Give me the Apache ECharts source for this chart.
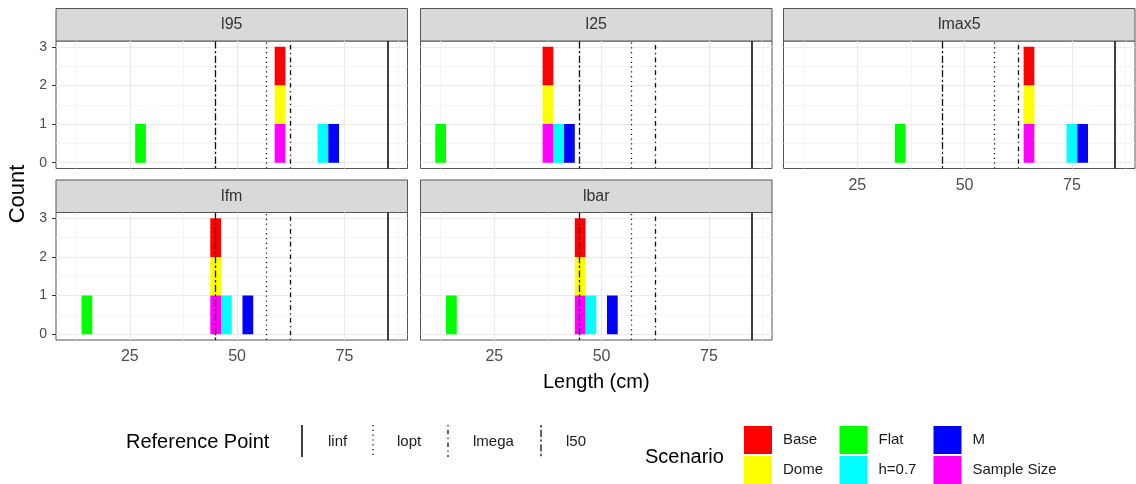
<!DOCTYPE html>
<html>
<head>
<meta charset="utf-8">
<script src="https://cdn.jsdelivr.net/npm/echarts@6/dist/echarts.min.js"></script>
<style>
  html, body { margin: 0; padding: 0; background: #fff; }
  #chart { width: 1136px; height: 484px; }
</style>
</head>
<body>
<div id="chart"></div>
<script>
// Estimated length (cm) per scenario for each length-based indicator
const scenarios = ['Base', 'Dome', 'Flat', 'h=0.7', 'M', 'Sample Size'];
const panelNames = ['l95', 'l25', 'lmax5', 'lfm', 'lbar'];
const l95 = [60, 60, 27.5, 70, 72.5, 60];
const l25 = [37.5, 37.5, 12.5, 40, 42.5, 37.5];
const lmax5 = [65, 65, 35, 75, 77.5, 65];
const lfm = [45, 45, 15, 47.5, 52.5, 45];
const lbar = [45, 45, 15, 47.5, 52.5, 45];

// Reference points drawn as vertical lines in every panel
const refNames = ['linf', 'lopt', 'lmega', 'l50'];
const refValues = [85, 56.8, 62.4, 44.8];

const binWidth = 2.5;
const xTicks = [25, 50, 75];
const yTicks = [0, 1, 2, 3];
const xMinorGrid = [12.5, 37.5, 62.5, 87.5];
const yMinorGrid = [0.5, 1.5, 2.5];

const panelValues = [l95, l25, lmax5, lfm, lbar];

// styling
const scenarioColors = ['#ff0000', '#ffff00', '#00ff00', '#00ffff', '#0000ff', '#ff00ff'];
const refDash = ['solid', [1.2, 3.6], [1.3, 3.4, 4.6, 3.4], [2.4, 2.4, 7.2, 2.4]];
const refWidth = [1.6, 1.3, 1.3, 1.3];
const FONT = '"Liberation Sans", Arial, sans-serif';

// facet layout
const colLeft = [56, 420.5, 783.5];
const rowTop = [41, 212.5];
const panelW = 351.5, panelH = 127.5, stripH = 32.5;
const xRange = [7.8, 89.7];
const yRange = [-0.15, 3.15];

// Histogram bins centred on multiples of binWidth; the first scenario is stacked on top
function binStacks(values) {
  const height = {};
  const rects = scenarios.map(() => []);
  for (let s = scenarios.length - 1; s >= 0; s--) {
    const k = Math.round(values[s] / binWidth);
    const y0 = height[k] || 0;
    rects[s].push([k * binWidth - binWidth / 2, k * binWidth + binWidth / 2, y0, y0 + 1]);
    height[k] = y0 + 1;
  }
  return rects;
}

function renderBin(params, api) {
  const p0 = api.coord([api.value(0), api.value(3)]);
  const p1 = api.coord([api.value(1), api.value(2)]);
  return {
    type: 'rect',
    shape: { x: p0[0], y: p0[1], width: p1[0] - p0[0], height: p1[1] - p0[1] },
    style: { fill: api.visual('color') }
  };
}

const grids = [], xAxes = [], yAxes = [], series = [], graphics = [];

panelNames.forEach((name, i) => {
  const row = i < 3 ? 0 : 1;
  const col = i < 3 ? i : i - 3;
  const left = colLeft[col], top = rowTop[row];
  const showX = i >= 2;
  const showY = col === 0;

  grids.push({
    left: left, top: top, width: panelW, height: panelH,
    show: true, backgroundColor: '#fff', borderColor: '#555', borderWidth: 1
  });

  xAxes.push({
    gridIndex: i, type: 'value', min: xRange[0], max: xRange[1],
    axisLine: { show: false },
    axisTick: { show: showX, length: 4, customValues: xTicks, lineStyle: { color: '#333', width: 1 } },
    axisLabel: { show: showX, customValues: xTicks, color: '#4d4d4d', fontSize: 16, margin: 9, fontFamily: FONT },
    splitLine: { show: false },
    name: i === 4 ? 'Length (cm)' : '',
    nameLocation: 'middle', nameGap: 32,
    nameTextStyle: { color: '#000', fontSize: 20, fontFamily: FONT }
  });

  yAxes.push({
    gridIndex: i, type: 'value', min: yRange[0], max: yRange[1],
    axisLine: { show: false },
    axisTick: { show: showY, length: 4, customValues: yTicks, lineStyle: { color: '#333', width: 1 } },
    axisLabel: { show: showY, customValues: yTicks, color: '#4d4d4d', fontSize: 14, margin: 9, fontFamily: FONT },
    splitLine: { show: false }
  });

  // panel grid lines, kept beneath the bars
  const gridLines = [];
  xMinorGrid.forEach(v => gridLines.push({ xAxis: v, lineStyle: { color: '#f3f3f3', width: 0.8, type: 'solid' } }));
  yMinorGrid.forEach(v => gridLines.push({ yAxis: v, lineStyle: { color: '#f3f3f3', width: 0.8, type: 'solid' } }));
  xTicks.forEach(v => gridLines.push({ xAxis: v, lineStyle: { color: '#ebebeb', width: 1.2, type: 'solid' } }));
  yTicks.forEach(v => gridLines.push({ yAxis: v, lineStyle: { color: '#ebebeb', width: 1.2, type: 'solid' } }));
  series.push({
    type: 'line', xAxisIndex: i, yAxisIndex: i, data: [], z: 1, silent: true,
    markLine: { z: 1, symbol: ['none', 'none'], silent: true, animation: false, label: { show: false }, data: gridLines }
  });

  // stacked histogram bars
  const rects = binStacks(panelValues[i]);
  scenarios.forEach((sc, s) => {
    series.push({
      type: 'custom', name: sc, xAxisIndex: i, yAxisIndex: i, z: 3,
      itemStyle: { color: scenarioColors[s] },
      encode: { x: [0, 1], y: [2, 3] },
      renderItem: renderBin, data: rects[s], animation: false, clip: true
    });
  });

  // reference point lines, drawn over the bars
  series.push({
    type: 'line', xAxisIndex: i, yAxisIndex: i, data: [], z: 6, silent: true,
    markLine: {
      z: 8, symbol: ['none', 'none'], silent: true, animation: false, label: { show: false },
      data: refValues.map((v, r) => ({ xAxis: v, lineStyle: { color: '#111', width: refWidth[r], type: refDash[r] } }))
    }
  });

  // facet strip
  graphics.push({
    type: 'rect', shape: { x: left, y: top - stripH, width: panelW, height: stripH },
    style: { fill: '#d9d9d9', stroke: '#555', lineWidth: 1 }
  });
  graphics.push({
    type: 'text', x: left + panelW / 2, y: top - stripH / 2,
    style: { text: name, fill: '#333', font: '16px ' + FONT, align: 'center', verticalAlign: 'middle' }
  });
});

// y-axis title
graphics.push({
  type: 'text', x: 18, y: 194, rotation: Math.PI / 2,
  style: { text: 'Count', fill: '#000', font: '22px ' + FONT, align: 'center', verticalAlign: 'middle' }
});

// Reference Point legend
const refKeyX = [302, 373, 448, 541];
const refLabelX = [328, 397, 473, 566];
graphics.push({
  type: 'text', x: 126, y: 442,
  style: { text: 'Reference Point', fill: '#000', font: '20px ' + FONT, align: 'left', verticalAlign: 'middle' }
});
refNames.forEach((n, r) => {
  graphics.push({
    type: 'line', shape: { x1: refKeyX[r], y1: 425, x2: refKeyX[r], y2: 457 },
    style: { stroke: '#111', lineWidth: refWidth[r], lineDash: refDash[r] === 'solid' ? null : refDash[r] }
  });
  graphics.push({
    type: 'text', x: refLabelX[r], y: 442,
    style: { text: n, fill: '#1a1a1a', font: '15px ' + FONT, align: 'left', verticalAlign: 'middle' }
  });
});

// Scenario legend title
graphics.push({
  type: 'text', x: 645, y: 457,
  style: { text: 'Scenario', fill: '#000', font: '20px ' + FONT, align: 'left', verticalAlign: 'middle' }
});

const legendCols = [[0, 1], [2, 3], [4, 5]];
const legendLeft = [744, 839.5, 933.5];
const legends = legendCols.map((idx, c) => ({
  orient: 'vertical', left: legendLeft[c], top: 426, padding: 0,
  itemWidth: 28, itemHeight: 28, itemGap: 2, icon: 'rect', selectedMode: false,
  data: idx.map(k => scenarios[k]),
  textStyle: { fontSize: 15, color: '#1a1a1a', fontFamily: FONT, padding: [0, 0, 0, 6] }
}));

const chart = echarts.init(document.getElementById('chart'), null, { renderer: 'canvas' });
chart.setOption({
  animation: false,
  backgroundColor: '#fff',
  textStyle: { fontFamily: FONT },
  grid: grids,
  xAxis: xAxes,
  yAxis: yAxes,
  legend: legends,
  series: series,
  graphic: graphics
});
</script>
</body>
</html>
